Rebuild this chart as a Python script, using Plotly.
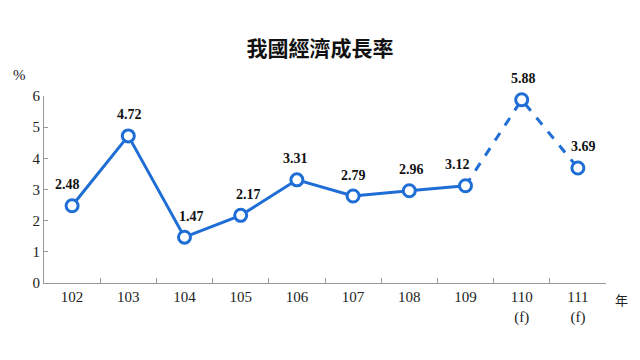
import plotly.graph_objects as go

years = ["102", "103", "104", "105", "106", "107", "108", "109", "110", "111"]
tick_labels = ["102", "103", "104", "105", "106", "107", "108", "109", "110<br>(f)", "111<br>(f)"]
growth = [2.48, 4.72, 1.47, 2.17, 3.31, 2.79, 2.96, 3.12, 5.88, 3.69]
labels = ["2.48", "4.72", "1.47", "2.17", "3.31", "2.79", "2.96", "3.12", "5.88", "3.69"]

blue = "#1f6ed6"
serif = "Liberation Serif, Times New Roman, serif"
label_xshift = [-5, 1, 7, 8, -1, 0, 2, -8, 2, 6]

fig = go.Figure()
fig.add_trace(go.Scatter(
    x=years[:8], y=growth[:8], mode="lines",
    line=dict(color=blue, width=3), hoverinfo="skip"))
fig.add_trace(go.Scatter(
    x=years[7:], y=growth[7:], mode="lines",
    line=dict(color=blue, width=3, dash="dash"), hoverinfo="skip"))
fig.add_trace(go.Scatter(
    x=years, y=growth, mode="markers", cliponaxis=False,
    marker=dict(symbol="circle", size=12, color="white", line=dict(color=blue, width=3))))

# category axis: annotation x given as category index
annotations = [
    dict(x=years.index(yr), y=v, text="<b>%s</b>" % lab, showarrow=False, xref="x", yref="y",
         yshift=21, xshift=xs, font=dict(family=serif, size=14, color="#111111"))
    for yr, v, lab, xs in zip(years, growth, labels, label_xshift)
]
annotations += [
    dict(text="%", xref="paper", yref="paper", x=-0.043, y=1.11, showarrow=False,
         font=dict(family=serif, size=15, color="#222222"), xanchor="center", yanchor="middle"),
    dict(text="年", xref="paper", yref="paper", x=1.012, y=-0.09, showarrow=False,
         font=dict(family="Noto Sans CJK TC", size=13, color="#222222"), xanchor="left", yanchor="middle"),
]

fig.update_layout(
    width=640, height=360,
    margin=dict(l=44, r=34, t=96, b=77),
    paper_bgcolor="white", plot_bgcolor="white",
    showlegend=False,
    title=dict(text="<b>我國經濟成長率</b>", x=0.5, xanchor="center", y=0.865, yanchor="middle",
               font=dict(family="Noto Sans CJK TC", size=21, color="#111111")),
    xaxis=dict(type="category", categoryorder="array", categoryarray=years,
               range=[-0.5, 9.5], tickvals=years, ticktext=tick_labels,
               showline=True, linecolor="#999999", linewidth=1, showgrid=False,
               ticks="inside", tickson="boundaries", ticklen=5, tickcolor="#999999",
               tickfont=dict(family=serif, size=15, color="#222222"), zeroline=False),
    yaxis=dict(range=[0, 6], dtick=1, showline=True, linecolor="#999999", linewidth=1,
               showgrid=False, zeroline=False, ticks="inside", ticklen=4, tickcolor="#999999",
               tickfont=dict(family=serif, size=15, color="#222222")),
    annotations=annotations,
)

fig.write_html("out.html")
